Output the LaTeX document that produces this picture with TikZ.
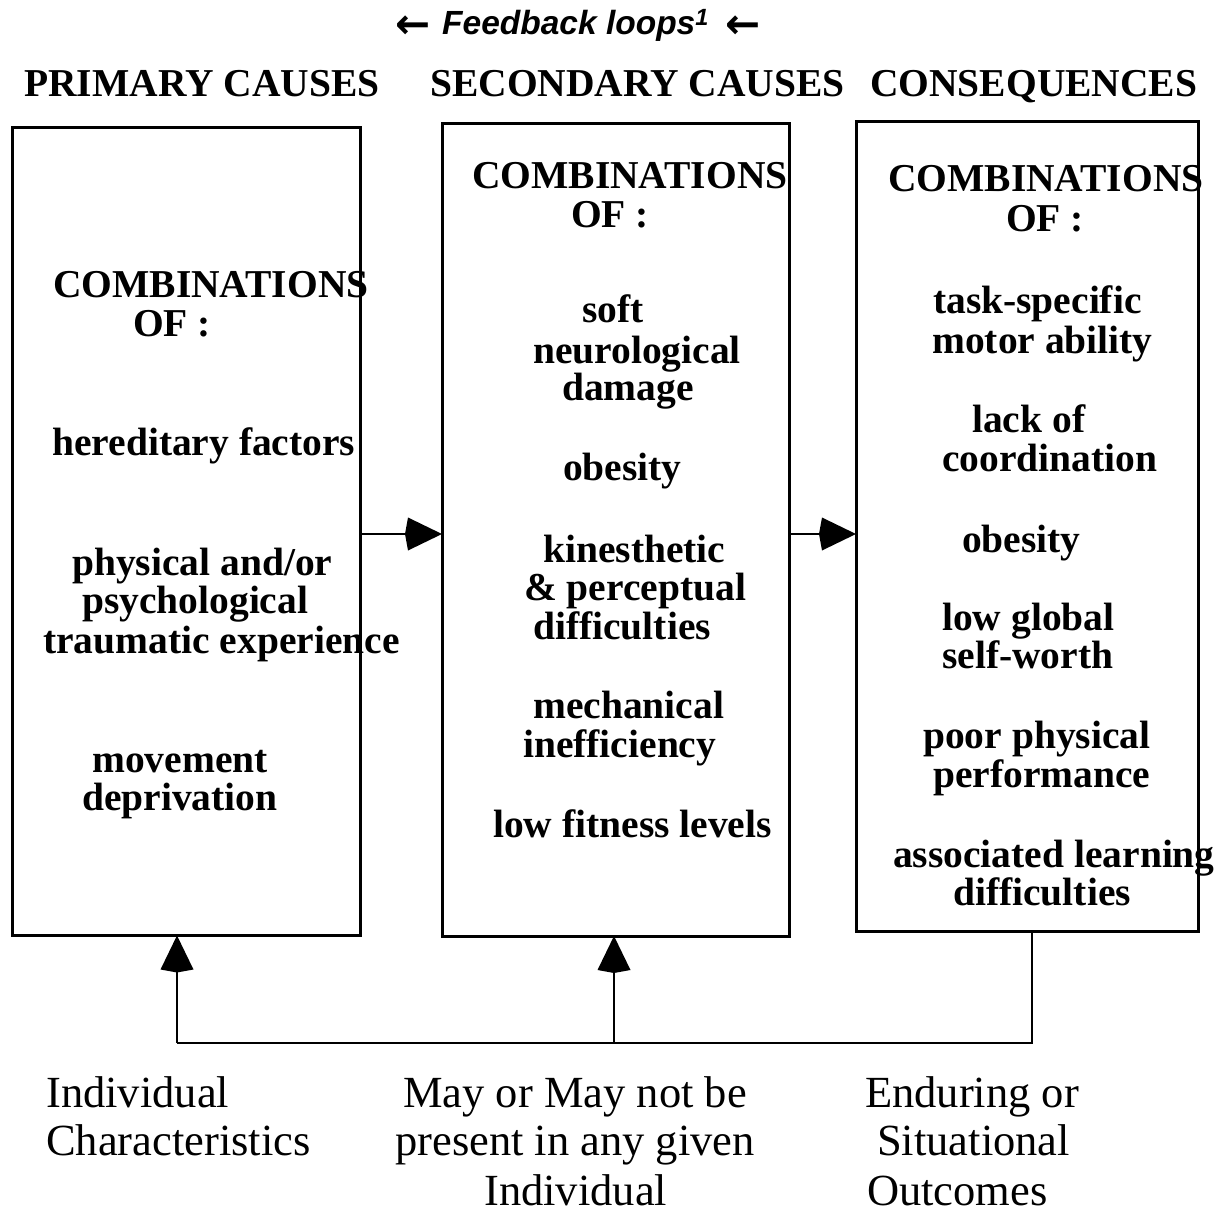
\documentclass[tikz,border=0pt]{standalone}
\usepackage{fontspec}
\setmainfont{Liberation Serif}
\newfontfamily\arialf{Liberation Sans}
\newfontfamily\symf{DejaVu Sans}
\usetikzlibrary{arrows.meta}
\begin{document}
\begin{tikzpicture}[x=1pt,y=-1pt,
  boxstyle/.style={draw=black,line width=3pt,rectangle,inner sep=0pt,outer sep=0pt},
  bt/.style={anchor=base west,inner sep=0pt,font=\fontsize{39.5}{40}\selectfont\bfseries},
  rt/.style={anchor=base west,inner sep=0pt,font=\fontsize{44.5}{48}\selectfont},
  fb/.style={anchor=base west,inner sep=0pt,font=\fontsize{33.5}{36}\selectfont\arialf\bfseries\itshape},
  arr/.style={anchor=base west,inner sep=0pt,font=\fontsize{42}{44}\selectfont\symf\bfseries},
  conn/.style={line width=2.8pt},
  tip/.style={-{Kite[length=37pt,width=33pt,inset=3pt]}}
]
\useasboundingbox (0,0) rectangle (1225,1214);
\fill[white] (0,0) rectangle (1225,1214);

% boxes
\node[boxstyle,minimum width=348pt,minimum height=808pt] (box1) at (186.5,531.5) {};
\node[boxstyle,minimum width=347pt,minimum height=812pt] (box2) at (615.5,530) {};
\node[boxstyle,minimum width=342pt,minimum height=810pt] (box3) at (1027,526.5) {};

% top title
\node[arr] (al) at (395,39) {←};
\node[fb] (fbt) at (442,35) {Feedback loops\textsuperscript{1}};
\node[arr] (ar) at (725,39) {←};

\node[bt] (h1) at (24,97) {PRIMARY CAUSES};
\node[bt] (h2) at (430,97) {SECONDARY CAUSES};
\node[bt] (h3) at (870,97) {CONSEQUENCES};

% box 1 text
\node[bt] (b1a) at (53,298) {COMBINATIONS};
\node[bt] (b1b) at (133,337) {OF :};
\node[bt] (b1c) at (52,455) {hereditary factors};
\node[bt] (b1d) at (72,575) {physical and/or};
\node[bt] (b1e) at (82,613) {psychological};
\node[bt] (b1f) at (43,653) {traumatic experience};
\node[bt] (b1g) at (92,772) {movement};
\node[bt] (b1h) at (82,810) {deprivation};

% box 2 text
\node[bt] (b2a) at (472,189) {COMBINATIONS};
\node[bt] (b2b) at (571,228) {OF :};
\node[bt] (b2c) at (582,323) {soft};
\node[bt] (b2d) at (533,363) {neurological};
\node[bt] (b2e) at (562,400) {damage};
\node[bt] (b2f) at (563,480) {obesity};
\node[bt] (b2g) at (543,562) {kinesthetic};
\node[bt] (b2h) at (524,600) {\& perceptual};
\node[bt] (b2i) at (533,639) {difficulties};
\node[bt] (b2j) at (533,718) {mechanical};
\node[bt] (b2k) at (523,757) {inefficiency};
\node[bt] (b2l) at (493,837) {low fitness levels};

% box 3 text
\node[bt] (b3a) at (888,192) {COMBINATIONS};
\node[bt] (b3b) at (1006,232) {OF :};
\node[bt] (b3c) at (933,313) {task-specific};
\node[bt] (b3d) at (932,353) {motor ability};
\node[bt] (b3e) at (972,432) {lack of};
\node[bt] (b3f) at (942,471) {coordination};
\node[bt] (b3g) at (962,552) {obesity};
\node[bt] (b3h) at (942,630) {low global};
\node[bt] (b3i) at (942,668) {self-worth};
\node[bt] (b3j) at (923,748) {poor physical};
\node[bt] (b3k) at (933,787) {performance};
\node[bt] (b3l) at (893,867) {associated learning};
\node[bt] (b3m) at (953,905) {difficulties};

% bottom text
\node[rt] (l1a) at (46,1107) {Individual};
\node[rt] (l1b) at (46,1155) {Characteristics};
\node[rt] (l2a) at (403,1107) {May or May not be};
\node[rt] (l2b) at (395,1155) {present in any given};
\node[rt] (l2c) at (484,1205) {Individual};
\node[rt] (l3a) at (865,1107) {Enduring or};
\node[rt] (l3b) at (877,1155) {Situational};
\node[rt] (l3c) at (867,1205) {Outcomes};

% connectors
\coordinate (m1) at (360,534);
\coordinate (m2) at (790,534);
\draw[conn,tip] (box1.east |- m1) -- (box2.west |- m1);
\draw[conn,tip] (box2.east |- m2) -- (box3.west |- m2);

\coordinate (f3) at (1032,1043);
\coordinate (f2) at (614,1043);
\coordinate (f1) at (177,1043);
\draw[conn] (box3.south -| f3) -- (f3) -- (f1);
\draw[conn,tip] (f1) -- (box1.south -| f1);
\draw[conn,tip] (f2) -- (box2.south -| f2);
\end{tikzpicture}
\end{document}
